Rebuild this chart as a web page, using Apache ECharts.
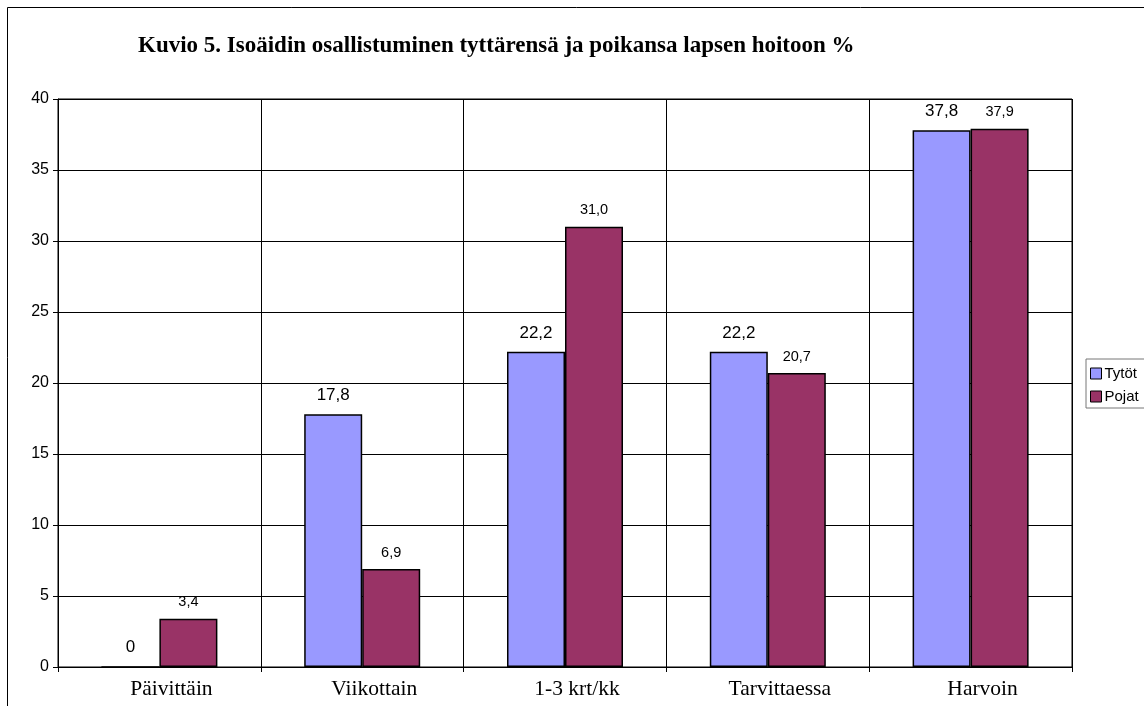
<!DOCTYPE html>
<html>
<head>
<meta charset="utf-8">
<script src="https://cdn.jsdelivr.net/npm/echarts@6/dist/echarts.min.js"></script>
<style>
html,body{margin:0;padding:0;background:#fff;}
#c{width:1144px;height:706px;}
</style>
</head>
<body>
<div id="c"></div>
<script>
const titleText = 'Kuvio 5. Isoäidin osallistuminen tyttärensä ja poikansa lapsen hoitoon %';
const categories = ['Päivittäin', 'Viikottain', '1-3 krt/kk', 'Tarvittaessa', 'Harvoin'];
const seriesNames = ['Tytöt', 'Pojat'];
const tytot = [0, 17.8, 22.2, 22.2, 37.8];
const pojat = [3.4, 6.9, 31.0, 20.7, 37.9];
const yTicks = [0, 5, 10, 15, 20, 25, 30, 35, 40];

function fmt(v) { return v === 0 ? '0' : v.toFixed(1).replace('.', ','); }

const chart = echarts.init(document.getElementById('c'), null, {renderer: 'canvas'});
const sans = 'Liberation Sans, Arial, sans-serif';
const serif = 'Liberation Serif, Times New Roman, serif';

chart.setOption({
  animation: false,
  backgroundColor: '#fff',
  title: {
    text: titleText,
    left: 138,
    top: 35,
    padding: 0,
    textStyle: {fontFamily: serif, fontWeight: 'bold', fontSize: 23, color: '#000'}
  },
  graphic: [{
    type: 'rect',
    shape: {x: 7.5, y: 7.5, width: 1300, height: 900},
    style: {fill: null, stroke: '#000', lineWidth: 1},
    silent: true, z: -1
  }],
  legend: {
    orient: 'vertical',
    left: 1086,
    top: 359,
    padding: [7, 10, 4, 4],
    itemGap: 8,
    itemWidth: 11,
    itemHeight: 11,
    icon: 'rect',
    borderColor: '#777',
    borderWidth: 1,
    textStyle: {fontFamily: sans, fontSize: 15, color: '#000', padding: [0, 0, 0, -2]},
    data: seriesNames.map(n => ({name: n, itemStyle: {borderColor: '#000', borderWidth: 1}}))
  },
  grid: {
    left: 58, right: 72, top: 99, bottom: 39,
    show: true, borderColor: '#000', borderWidth: 1
  },
  xAxis: {
    type: 'category',
    data: categories,
    axisLine: {lineStyle: {color: '#000', width: 1}},
    axisTick: {show: true, length: 5, lineStyle: {color: '#000'}},
    axisLabel: {fontFamily: serif, fontSize: 21.5, color: '#000', margin: 11, interval: 0,
      padding: [0, 0, 0, 24]},
    splitLine: {show: true, interval: 0, lineStyle: {color: '#000', width: 1}}
  },
  yAxis: {
    type: 'value',
    min: yTicks[0],
    max: yTicks[yTicks.length - 1],
    interval: yTicks[1] - yTicks[0],
    axisLine: {show: true, lineStyle: {color: '#000'}},
    axisTick: {show: true, length: 5, lineStyle: {color: '#000'}},
    axisLabel: {fontFamily: sans, fontSize: 16, color: '#000', margin: 9},
    splitLine: {show: true, lineStyle: {color: '#000', width: 1}}
  },
  series: [
    {
      name: seriesNames[0],
      type: 'bar',
      data: tytot,
      barWidth: 58,
      barGap: '0%',
      itemStyle: {color: '#9999FF', borderColor: '#000', borderWidth: 1.5},
      label: {show: true, position: 'top', distance: 10, fontFamily: sans, fontSize: 17, color: '#000',
        formatter: p => fmt(p.value)}
    },
    {
      name: seriesNames[1],
      type: 'bar',
      data: pojat,
      barWidth: 58,
      barGap: '0%',
      itemStyle: {color: '#993366', borderColor: '#000', borderWidth: 1.5},
      label: {show: true, position: 'top', distance: 9, fontFamily: sans, fontSize: 14.5, color: '#000',
        formatter: p => fmt(p.value)}
    }
  ]
});
</script>
</body>
</html>
